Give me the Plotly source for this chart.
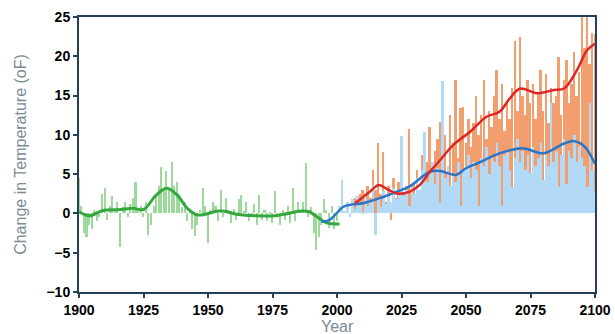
import plotly.graph_objects as go

# ---------------- data ----------------
hist_years = list(range(1900, 2001))
hist_vals = [4.5, 1.0, -2.5, -3.0, -1.5, -2.0, 0.5, -1.0, -0.5, 2.5,
             3.2, -0.8, 1.0, 2.2, 0.3, 1.5, -4.3, 0.8, 1.5, -0.5,
             1.2, 2.0, 4.0, 0.5, 1.0, -0.5, 1.5, -2.8, -1.5, 1.0,
             2.5, 3.5, 5.9, 2.8, 5.4, 3.0, 6.6, 3.5, 4.0, 2.5,
             0.8, 1.5, -1.0, 0.5, -2.0, -2.9, -1.5, 0.5, 3.2, 1.0,
             -3.8, 0.5, 1.5, 1.0, -1.0, 3.0, -0.5, 2.0, 0.5, -1.2,
             0.6, -0.8, 1.8, 2.4, 0.3, 1.5, -1.0, -0.5, 1.2, -1.5,
             2.3, -0.8, 0.5, -1.0, 0.2, -1.2, 2.9, -0.5, -1.5, 0.5,
             -0.8, 1.0, -1.2, 3.2, -1.0, 1.5, 0.5, 1.5, 6.4, -0.5,
             0.8, -2.5, -4.7, -3.0, -1.5, 1.9, 0.5, -1.8, 1.0, -2.0,
             -1.0]

fut_years = list(range(2000, 2101))
low_vals = [-0.5, 1.0, 4.2, 0.3, 1.5, -0.5, 1.8, 0.6, 2.2, 1.2,
            0.2, 2.0, 1.0, 1.6, 3.6, -2.7, 1.9, 0.8, 2.8, 1.2,
            2.4, 1.5, 3.2, 1.8, 2.6, 9.8, 2.2, 3.0, 1.0, 3.8,
            2.5, 4.5, 3.0, 5.5, 10.4, 4.0, 5.0, 6.5, 3.8, 5.8,
            1.3, 16.8, 4.5, 6.0, 3.5, 5.0, 4.0, 6.5, 0.9, 5.5,
            6.0, 7.5, 4.5, 6.5, 5.5, 1.0, 7.0, 6.0, 8.5, 5.0,
            7.0, 6.5, 9.0, 6.0, 0.9, 7.5, 8.0, 5.5, 3.4, 7.0,
            9.5, 6.5, 8.0, 5.5, 7.5, 5.1, 8.5, 6.0, 7.0, 9.0,
            4.2, 7.5, 6.0, 14.0, 6.5, 8.0, 3.4, 7.5, 9.5, 3.8,
            8.0, 7.0, 10.0, 6.5, 8.5, 7.0, 6.0, 3.4, 14.0, 5.5,
            2.9]
high_vals = [None, None, None, None, None, None, 1.5, 2.0, 1.2, 2.5,
             3.0, 1.8, 3.5, 2.0, 5.5, 3.0, 9.0, 2.5, 7.8, 1.5,
             3.5, -0.8, 4.5, 2.0, 4.0, 3.0, 2.5, 3.5, 10.8, 2.8,
             4.0, 5.5, 3.0, 7.5, 4.5, 6.5, 11.0, 5.5, 8.0, 9.5,
             11.7, 6.5, 10.0, 5.0, 12.5, 9.0, 17.0, 7.0, 13.4, 13.6,
             9.0, 12.0, 8.5, 11.5, 14.9, 10.0, 12.5, 17.0, 9.5, 13.0,
             11.0, 15.0, 18.3, 12.0, 16.5, 10.5, 14.0, 12.0, 16.0, 22.0,
             13.0, 22.5, 15.0, 12.5, 17.0, 14.0, 16.5, 12.0, 15.5, 18.3,
             13.0, 17.8, 11.5, 16.0, 14.0, 15.0, 19.9, 12.5, 17.0, 19.5,
             14.0, 16.5, 20.5, 15.0, 18.0, 26.0, 21.0, 26.0, 19.0, 23.0,
             22.9]

hist_smooth_years = [1900, 1904, 1909, 1916, 1921, 1925, 1930, 1934, 1938, 1942,
                     1946, 1955, 1961, 1969, 1977, 1986, 1989, 1993, 1996, 2001]
hist_smooth_vals = [0.2, -0.3, 0.35, 0.5, 0.65, 0.5, 2.35, 3.2, 2.35, 0.65,
                    -0.2, 0.35, -0.1, -0.3, -0.25, 0.3, 0.25, -0.6, -1.2, -1.35]

low_smooth_years = [1994, 1997, 2002.5, 2006, 2010, 2017, 2023, 2028, 2036, 2040,
                    2046, 2050, 2055, 2063, 2072, 2080, 2088, 2092, 2096, 2100]
low_smooth_vals = [-1.05, -0.85, 0.85, 1.15, 1.3, 2.0, 2.75, 3.4, 5.3, 5.4,
                   4.9, 5.75, 6.45, 7.65, 8.3, 7.65, 8.9, 9.2, 8.5, 6.3]

high_smooth_years = [2007, 2012.7, 2016, 2020, 2023, 2028, 2032, 2036, 2040, 2045,
                     2051.6, 2058, 2063, 2067, 2071, 2077.5, 2084, 2088, 2093, 2097, 2100]
high_smooth_vals = [1.3, 2.75, 3.6, 3.0, 2.55, 2.75, 3.6, 5.3, 6.8, 8.7,
                    10.4, 12.3, 12.95, 14.65, 15.9, 15.3, 15.7, 15.9, 18.25, 20.8, 21.6]

x_ticks = [1900, 1925, 1950, 1975, 2000, 2025, 2050, 2075, 2100]
y_ticks = [-10, -5, 0, 5, 10, 15, 20, 25]
x_title = "Year"
y_title = "Change in Temperature (oF)"

# ---------------- figure ----------------
axis_col = "rgb(40,62,90)"
fig = go.Figure()

fig.add_trace(go.Bar(x=fut_years, y=high_vals, width=0.75,
                     marker=dict(color="rgb(242,158,110)", line_width=0),
                     showlegend=False))
fig.add_trace(go.Bar(x=fut_years, y=low_vals, width=1.0,
                     marker=dict(color="rgb(178,218,246)", line_width=0),
                     showlegend=False))
fig.add_trace(go.Bar(x=hist_years, y=hist_vals, width=0.6,
                     marker=dict(color="rgb(155,218,155)", line_width=0),
                     showlegend=False))

fig.add_trace(go.Scatter(x=hist_smooth_years, y=hist_smooth_vals, mode="lines",
                         line=dict(color="rgb(52,168,62)", width=3, shape="spline", smoothing=1.0),
                         showlegend=False))
fig.add_trace(go.Scatter(x=low_smooth_years, y=low_smooth_vals, mode="lines",
                         line=dict(color="rgb(40,118,200)", width=2.5, shape="spline", smoothing=1.0),
                         showlegend=False))
fig.add_trace(go.Scatter(x=high_smooth_years, y=high_smooth_vals, mode="lines",
                         line=dict(color="rgb(222,38,38)", width=2.5, shape="spline", smoothing=1.0),
                         showlegend=False))

tickfont = dict(family="Liberation Sans, Arial, sans-serif", size=14, color="black", weight="bold")
titlefont = dict(family="Liberation Sans, Arial, sans-serif", size=16, color="rgb(125,138,150)")

fig.update_layout(
    width=615, height=334,
    margin=dict(l=79, r=20, t=17, b=42),
    paper_bgcolor="white", plot_bgcolor="white",
    barmode="overlay", bargap=0,
    xaxis=dict(range=[1900, 2100], tickvals=x_ticks, ticktext=[str(v) for v in x_ticks],
               showgrid=False, zeroline=False, showline=True, linecolor=axis_col, linewidth=2,
               mirror=True, ticks="outside", ticklen=4, tickcolor=axis_col, tickwidth=1.5,
               tickfont=tickfont, automargin=False),
    yaxis=dict(range=[-10, 25], tickvals=y_ticks, ticktext=[str(v).replace("-", "\u2212") for v in y_ticks],
               showgrid=False, zeroline=False, showline=True, linecolor=axis_col, linewidth=2,
               mirror=True, ticks="outside", ticklen=4, tickcolor=axis_col, tickwidth=1.5,
               tickfont=tickfont, automargin=False,
               title=dict(text=y_title, font=titlefont, standoff=16)),
    annotations=[dict(text=x_title, xref="paper", yref="paper", x=0.5, y=0,
                      xanchor="center", yanchor="top", yshift=-24, showarrow=False,
                      font=titlefont)],
)

fig.write_html("out.html")
